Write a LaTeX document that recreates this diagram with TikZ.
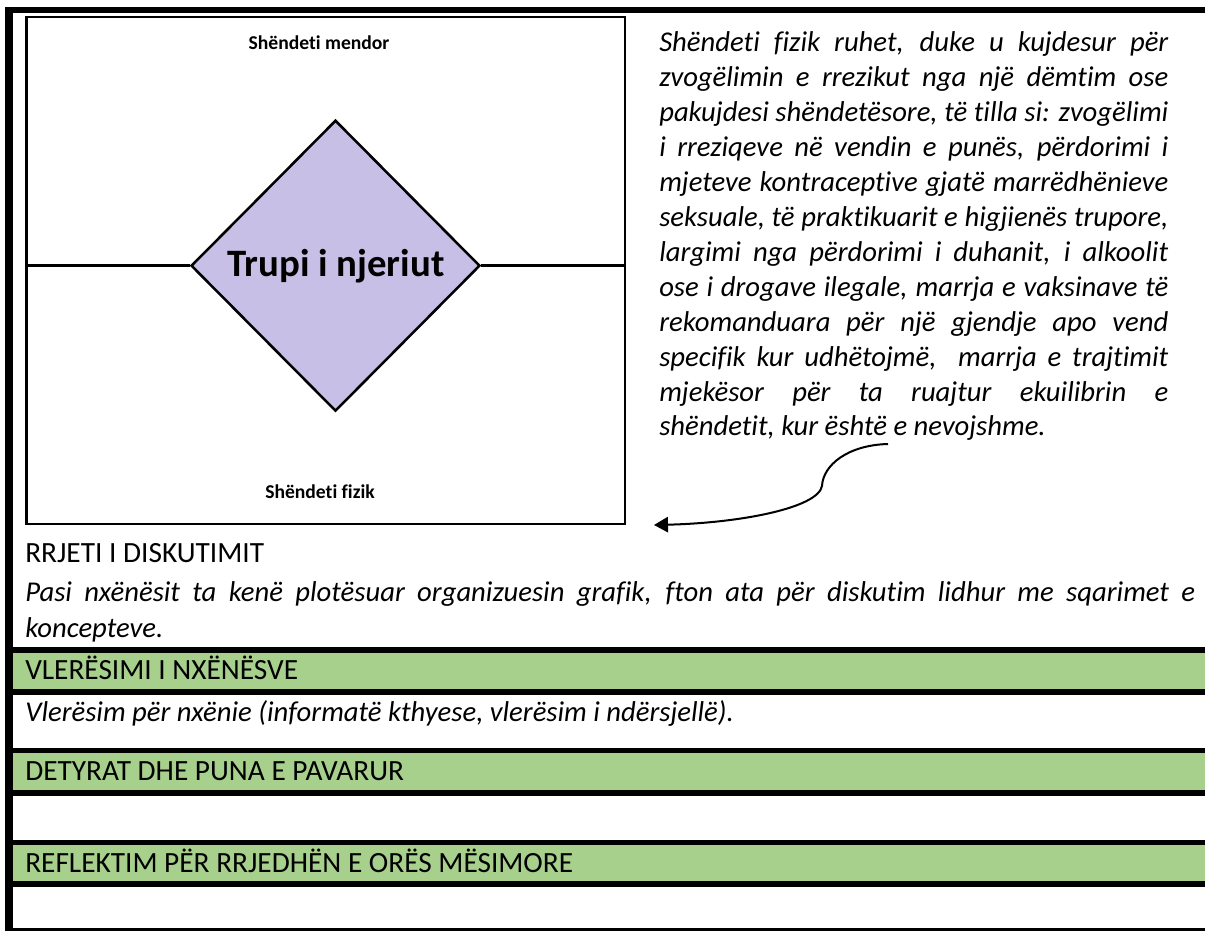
\documentclass[tikz,border=0pt]{standalone}
\usepackage{fontspec}
\setmainfont{Carlito}[Ligatures=NoCommon]
\usetikzlibrary{shapes.geometric,arrows.meta}
\definecolor{bandgreen}{HTML}{A8D08D}
\definecolor{lav}{HTML}{C7BFE6}
\begin{document}
\begin{tikzpicture}[x=0.75pt,y=-0.75pt,
  frame/.style={fill=black,draw=none},
  rule/.style={fill=black,draw=none},
  band/.style={fill=bandgreen,draw=none},
  lbl/.style={inner sep=0pt,anchor=base,font=\fontsize{14.7}{17}\selectfont\bfseries},
  body/.style={inner sep=0pt,anchor=base west,font=\fontsize{22}{26}\selectfont},
  ibody/.style={body,font=\fontsize{21.5}{26}\selectfont\itshape},
  conn/.style={line width=1.9pt,black}]
\useasboundingbox (0,0) rectangle (1205,931);
\fill[white] (0,0) rectangle (1205,931);
% outer frame
\fill[frame] (5,7) rectangle (13,931);
\fill[frame] (5,7) rectangle (1205,13);
% inner picture box
\node[draw=black,line width=2.2pt,minimum width=448.9pt,minimum height=380.2pt,inner sep=0pt] (box) at (325.75,270.5) {};
\node[diamond,draw=black,line width=1.9pt,fill=lav,minimum width=216.75pt,minimum height=218.25pt,inner sep=0pt] (dia) at (335.5,265.7) {};
\node[inner sep=0pt,anchor=base,font=\fontsize{29.1}{34}\selectfont\bfseries] (body) at (336,276.7) {Trupi i njeriut};
\draw[conn] (box.west |- dia.west) -- (dia.west);
\draw[conn] (dia.east) -- (box.east |- dia.east);
\node[lbl] (mend) at (319,49.3) {Shëndeti mendor};
\node[lbl] (fiz) at (320,498) {Shëndeti fizik};
% right paragraph
\foreach \t [count=\i] in {
 {Shëndeti fizik ruhet, duke u kujdesur për},
 {zvogëlimin e rrezikut nga një dëmtim ose},
 {pakujdesi shëndetësore, të tilla si: zvogëlimi},
 {i rreziqeve në vendin e punës, përdorimi i},
 {mjeteve kontraceptive gjatë marrëdhënieve},
 {seksuale, të praktikuarit e higjienës trupore,},
 {largimi nga përdorimi i duhanit, i alkoolit},
 {ose i drogave ilegale, marrja e vaksinave të},
 {rekomanduara për një gjendje apo vend},
 {specifik kur udhëtojmë,\ \ marrja e trajtimit},
 {mjekësor për ta ruajtur ekuilibrin e}}
 {\node[ibody] (p\i) at (659,{52+(\i-1)*34.9}) {\makebox[381.75pt][s]{\t}};}
\node[ibody] (p12) at (659,435) {shëndetit, kur është e nevojshme.};
% curved arrow
\coordinate (cs) at (888,444);
\coordinate (ce) at (654,525);
\draw[line width=1.5pt,-{Triangle[length=10.5pt,width=11.5pt]}] (cs) .. controls (848,445) and (823,465) .. (822,486) .. controls (818,508) and (740,523) .. (ce);
% lower table
\node[body] (h1) at (25,562) {RRJETI I DISKUTIMIT};
\node[ibody] (t1) at (25,601) {\makebox[877.5pt][s]{Pasi nxënësit ta kenë plotësuar organizuesin grafik, fton ata për diskutim lidhur me sqarimet e}};
\node[ibody] (t2) at (25,637) {koncepteve.};
\fill[rule] (13,647) rectangle (1205,653);
\fill[band] (13,653) rectangle (1205,689);
\fill[rule] (13,689) rectangle (1205,695);
\node[body] (h2) at (25,679) {VLERËSIMI I NXËNËSVE};
\node[ibody] (t3) at (25,721) {Vlerësim për nxënie (informatë kthyese, vlerësim i ndërsjellë).};
\fill[rule] (13,748) rectangle (1205,753);
\fill[band] (13,753) rectangle (1205,790);
\fill[rule] (13,790) rectangle (1205,796);
\node[body] (h3) at (25,780) {DETYRAT DHE PUNA E PAVARUR};
\fill[rule] (13,840) rectangle (1205,845);
\fill[band] (13,845) rectangle (1205,881);
\fill[rule] (13,881) rectangle (1205,887);
\node[body] (h4) at (25,872) {REFLEKTIM PËR RRJEDHËN E ORËS MËSIMORE};
\fill[rule] (13,928) rectangle (1205,931);
\end{tikzpicture}
\end{document}
